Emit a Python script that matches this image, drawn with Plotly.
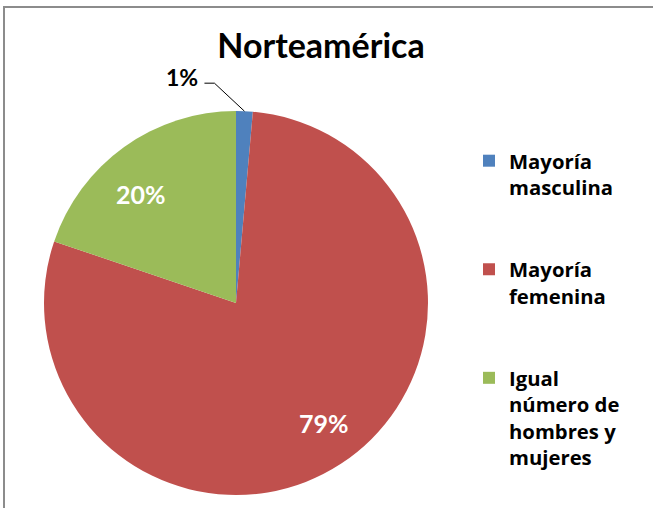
import math
import plotly.graph_objects as go

# ---- data ----
categories = ["Mayoría masculina", "Mayoría femenina", "Igual número de hombres y mujeres"]
legend_labels = ["<b>Mayoría<br>masculina<br> <br> </b>", "<b>Mayoría<br>femenina<br> <br> </b>",
                 "<b>Igual<br>número de<br>hombres y<br>mujeres</b>"]
values = [1.4, 78.8, 19.8]
colors = ["#4F81BD", "#C0504D", "#9BBB59"]
title_text = "Norteamérica"

W, H = 653, 508
FONT = "Lato, 'Open Sans', Arial, sans-serif"
LEG_FONT = "'Open Sans', Lato, Arial, sans-serif"

# pie geometry in pixels
cx, cy, R = 236, 303, 192
# small label nudges (pixels), per slice index
label_nudge = {1: (7, -4), 2: (-9, 11)}


def px(x):
    return x / W


def py(y):
    return 1 - y / H


fig = go.Figure(go.Pie(
    labels=legend_labels,
    values=values,
    marker=dict(colors=colors, line=dict(width=0)),
    sort=False,
    direction="clockwise",
    rotation=0,
    textinfo="none",
    hoverinfo="label+percent",
    domain=dict(x=[px(cx - R), px(cx + R)], y=[py(cy + R), py(cy - R)]),
))

total = sum(values)
annotations = []
shapes = []
cum = 0.0
for i, v in enumerate(values):
    frac = v / total
    mid = (cum + frac / 2) * 2 * math.pi
    cum += frac
    label = f"{round(frac * 100):.0f}%"
    sx, sy = math.sin(mid), -math.cos(mid)
    if frac < 0.05:
        # outside label with leader line
        ax, ay = cx + R * sx, cy + R * sy
        ex, ey = ax - 30, ay - 28
        hx = ex - 10
        shapes.append(dict(type="path", xref="paper", yref="paper",
                           path=f"M {px(ax)},{py(ay)} L {px(ex)},{py(ey)} L {px(hx)},{py(ey)}",
                           line=dict(color="black", width=1)))
        annotations.append(dict(x=px(hx - 4), y=py(ey - 6), xref="paper", yref="paper",
                                text=f"<b>{label}</b>", showarrow=False,
                                xanchor="right", yanchor="middle",
                                font=dict(family=FONT, size=23, color="black")))
    else:
        r = 0.77 * R
        nx, ny = label_nudge.get(i, (0, 0))
        annotations.append(dict(x=px(cx + r * sx + nx), y=py(cy + r * sy + ny),
                                xref="paper", yref="paper",
                                text=f"<b>{label}</b>", showarrow=False,
                                xanchor="center", yanchor="middle",
                                font=dict(family=FONT, size=25, color="white")))

# chart frame
shapes.append(dict(type="rect", xref="paper", yref="paper",
                   x0=px(4), y0=py(H + 20), x1=px(W + 20), y1=py(7),
                   line=dict(color="#8C8C8C", width=2), fillcolor="rgba(0,0,0,0)", layer="above"))

fig.update_layout(
    width=W, height=H,
    margin=dict(l=0, r=0, t=0, b=0),
    paper_bgcolor="white",
    plot_bgcolor="white",
    title=dict(text=f"<b>{title_text}</b>", x=px(321), y=py(46), xanchor="center", yanchor="middle",
               xref="paper", yref="paper",
               font=dict(family=FONT, size=34, color="black")),
    legend=dict(x=px(469), y=py(141), xanchor="left", yanchor="top",
                valign="top", font=dict(family=LEG_FONT, size=20.3, color="black"),
                bgcolor="rgba(0,0,0,0)", itemclick=False),
    annotations=annotations,
    shapes=shapes,
    showlegend=True,
)

fig.write_html("out.html", config={"displayModeBar": False},
               post_script="document.body.style.margin='0';document.body.style.overflow='hidden';")
